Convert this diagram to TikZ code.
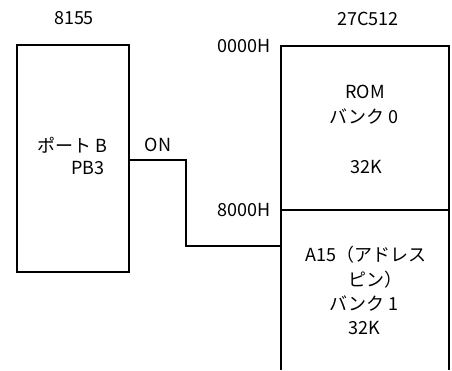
\documentclass[tikz,border=0pt]{standalone}
\usepackage{fontspec}
\setmainfont{Noto Sans CJK JP}
\begin{document}
\begin{tikzpicture}[x=1pt,y=-1pt,
  lbl/.style={font=\fontsize{18}{21}\selectfont, inner sep=0pt},
  wire/.style={line width=1.2pt}]
\useasboundingbox (0,0) rectangle (452,370);
% left box
\draw[wire] (17,45) rectangle (129,272);
\node[lbl] (t8155) at (74,18) {8155};
\node[lbl] (portb) at (72,145) {ポート B};
\node[lbl] (pb3) at (88,168) {PB3};
\node[lbl] (on) at (158,145) {ON};
% right box
\coordinate (rtl) at (281,46);
\coordinate (rtr) at (449,46);
\coordinate (rbl) at (281,370);
\coordinate (rbr) at (449,370);
\draw[wire] (rbl) -- (rtl) -- (rtr) -- (rbr);
\coordinate (dl) at (281,210);
\coordinate (dr) at (449,210);
\draw[wire] (dl) -- (dr);
\node[lbl] (t27) at (368,19) {27C512};
\node[lbl] (a0) at (244,46) {0000H};
\node[lbl] (a8) at (244,210) {8000H};
\node[lbl] (rom) at (365,92) {ROM};
\node[lbl] (b0) at (364,117) {バンク 0};
\node[lbl] (k0) at (366,167) {32K};
\node[lbl] (a15) at (366,255) {A15（アドレス};
\node[lbl] (pin) at (375,280) {ピン）};
\node[lbl] (b1) at (364,304) {バンク 1};
\node[lbl] (k1) at (364,328) {32K};
% wire
\coordinate (ws) at (129,160);
\coordinate (we) at (281,246);
\draw[wire] (ws) -- (186,160) -- (186,246) -- (we);
\end{tikzpicture}
\end{document}
